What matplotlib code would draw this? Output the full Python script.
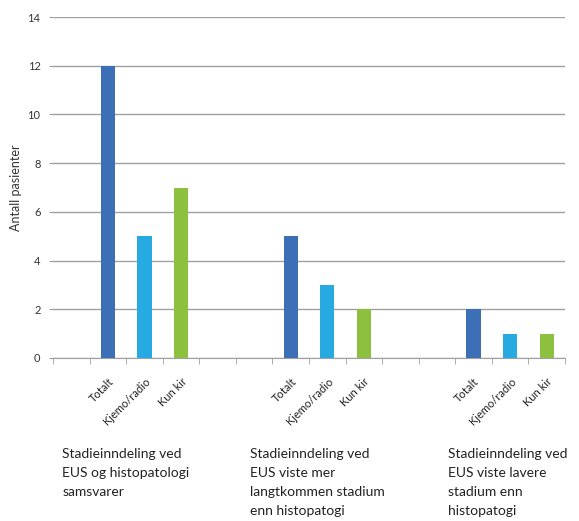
import matplotlib
matplotlib.use("Agg")
import matplotlib.pyplot as plt
import numpy as np

plt.rcParams['font.family'] = ['Lato', 'DejaVu Sans']

groups = ["Stadieinndeling ved\nEUS og histopatologi\nsamsvarer",
          "Stadieinndeling ved\nEUS viste mer\nlangtkommen stadium\nenn histopatogi",
          "Stadieinndeling ved\nEUS viste lavere\nstadium enn\nhistopatogi"]
series = ["Totalt", "Kjemo/radio", "Kun kir"]
values = {
    "Totalt": [12, 5, 2],
    "Kjemo/radio": [5, 3, 1],
    "Kun kir": [7, 2, 1],
}
colors = {"Totalt": "#3d6fb6", "Kjemo/radio": "#27a9e1", "Kun kir": "#8dc03f"}
yticks = [0, 2, 4, 6, 8, 10, 12, 14]
ylabel = "Antall pasienter"

fig = plt.figure(figsize=(5.79, 5.21), dpi=100)
ax = fig.add_axes([53/579, 1-358/521, (565-53)/579, (358-17)/521])

# slot layout: one empty slot before each group of three bars, two empty between groups
slot_start = [1, 6, 11]
xpos, xlab = [], []
for gi in range(len(groups)):
    for si, s in enumerate(series):
        x = slot_start[gi] + si
        ax.bar(x, values[s][gi], width=0.39, color=colors[s], zorder=3)
        xpos.append(x)
        xlab.append(s)

ax.set_xlim(-0.5, 13.5)
ax.set_ylim(0, 14)
ax.set_yticks(yticks)
ax.set_yticklabels([str(v) for v in yticks], fontsize=8, color="#333333")
ax.yaxis.grid(True, color="#a0a0a0", linewidth=1.0, zorder=0)
for sp in ["top", "right", "left"]:
    ax.spines[sp].set_visible(False)
ax.spines["bottom"].set_color("#a0a0a0")
ax.tick_params(axis="y", length=3, color="#a0a0a0", pad=6)

ax.set_xticks(xpos)
ax.set_xticklabels(xlab, rotation=45, ha="right", rotation_mode="anchor",
                   fontsize=8, color="#222222")
ax.tick_params(axis="x", which="major", length=0, pad=13)
ax.set_xticks(np.arange(-0.5, 13.6, 1), minor=True)
ax.tick_params(axis="x", which="minor", length=4, color="#a0a0a0", direction="out")

ax.set_ylabel(ylabel, fontsize=9, color="#333333", labelpad=4)

label_x = [-0.25, 4.88, 10.3]
for gx, g in zip(label_x, groups):
    ax.text(gx, -(448-358)/341, g, transform=ax.get_xaxis_transform(),
            ha="left", va="top", fontsize=10, color="#222222", linespacing=1.7)

fig.savefig("out.png", dpi=100)
